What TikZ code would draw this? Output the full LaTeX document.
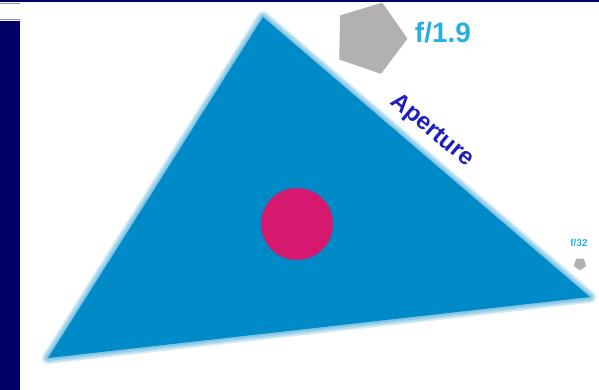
\documentclass[tikz,border=0pt]{standalone}
\usepackage{fontspec}
\setmainfont{Liberation Sans}
\usetikzlibrary{shapes.geometric}
\definecolor{navy}{RGB}{0,0,102}
\definecolor{apblue}{RGB}{0,138,199}
\definecolor{pupil}{RGB}{214,24,110}
\definecolor{stopgray}{RGB}{178,176,177}
\definecolor{fcyan}{RGB}{40,175,225}
\definecolor{labblue}{RGB}{30,30,190}
\begin{document}
\begin{tikzpicture}[x=1pt,y=-1pt,
  stop/.style={regular polygon,regular polygon sides=5,fill=stopgray,inner sep=0pt}]
\useasboundingbox (0,0) rectangle (599,390);
\coordinate (T) at (263,17);
\coordinate (R) at (590,297);
\coordinate (L) at (48,358);
% soft edge of the triangle
\foreach \w in {12,9,6,3}
  \draw[apblue,line width=\w pt,line join=round,opacity=.16] (T) -- (R) -- (L) -- cycle;
\fill[apblue] (T) -- (R) -- (L) -- cycle;
\fill[pupil,opacity=.5] (297,224) circle (36.5);
\fill[pupil] (297,224) circle (35.5);
% stops
\node[stop,minimum size=75pt,rotate=-19] (wide) at (370,38) {};
\node[stop,minimum size=13pt,rotate=180] (narrow) at (580,264) {};
\node[font=\bfseries\fontsize{28}{28}\selectfont,text=fcyan] (fwide) at (443,33) {f/1.9};
\node[font=\bfseries\fontsize{10}{10}\selectfont,text=fcyan] (fnarrow) at (579,243) {f/32};
\node[font=\bfseries\fontsize{24}{24}\selectfont,text=labblue,rotate=-40] (aperture) at (432,131) {Aperture};
% frame
\fill[navy] (0,0) rectangle (599,2.5);
\fill[navy] (0,21) rectangle (20,390);
\draw[navy!45,line width=1pt] (0,4) -- (20,4);
\draw[navy!45,line width=1pt] (0,20) -- (20,20);
\end{tikzpicture}
\end{document}
